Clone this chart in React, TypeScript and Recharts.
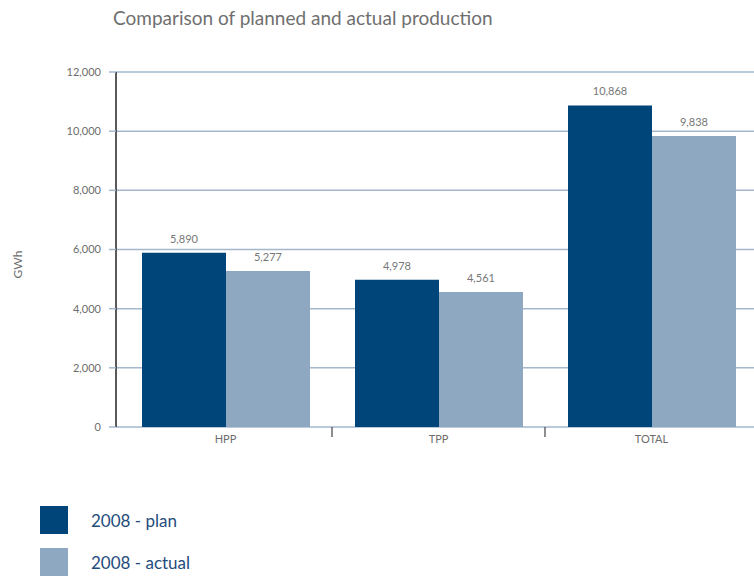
import { BarChart, Bar, XAxis, YAxis, CartesianGrid, LabelList } from 'recharts';

const CATEGORIES = ['HPP', 'TPP', 'TOTAL'];
const PLAN = [5890, 4978, 10868];
const ACTUAL = [5277, 4561, 9838];
const Y_TICKS = [0, 2000, 4000, 6000, 8000, 10000, 12000];

const SERIES = [
  { key: 'plan', name: '2008 - plan', color: '#00457a' },
  { key: 'actual', name: '2008 - actual', color: '#8ea8c2' },
];

const data = CATEGORIES.map((c, i) => ({ name: c, plan: PLAN[i], actual: ACTUAL[i] }));

const GRID = '#a5b8cb';
const FONT = 'Lato, "Open Sans", sans-serif';

const fmt = (v: any) => Number(v).toLocaleString('en-US');

// category label in the middle, separator tick on the band's left edge
const CategoryTick = (props: any) => {
  const { x, y, payload, index } = props;
  const half = payload && payload.offset ? payload.offset : 106.5;
  return (
    <g>
      {index > 0 && (
        <line x1={x - half} x2={x - half} y1={y} y2={y + 10} stroke="#444" strokeWidth={1.2} />
      )}
      <text x={x} y={y + 8} dy="0.71em" textAnchor="middle" fontSize={11} fill="#6d6d6d" fontFamily={FONT}>
        {payload.value}
      </text>
    </g>
  );
};

const AxisTitle = ({ viewBox }: any) => {
  const cx = 17;
  const cy = viewBox.y + viewBox.height / 2 + 15;
  return (
    <text x={cx} y={cy} transform={`rotate(-90, ${cx}, ${cy})`} textAnchor="middle" dominantBaseline="central"
      fontSize={12} fill="#6d6d6d" fontFamily={FONT}>
      GWh
    </text>
  );
};

export default function App() {
  return (
    <div style={{ position: 'absolute', left: 0, top: 0, width: 754, height: 577, overflow: 'hidden', background: '#fff', fontFamily: FONT }}>
      <div style={{ position: 'absolute', left: 113, top: 6, fontSize: 19, color: '#6f6f6f', whiteSpace: 'nowrap' }}>
        Comparison of planned and actual production
      </div>
      <BarChart
        width={758}
        height={577}
        data={data}
        margin={{ top: 72, right: 0, left: 0, bottom: 120 }}
        barCategoryGap={23}
        barGap={0}
      >
        <CartesianGrid vertical={false} stroke={GRID} strokeWidth={1.5} />
        <XAxis
          dataKey="name"
          height={30}
          padding={{ left: 3, right: 0 }}
          axisLine={false}
          tickLine={false}
          tickSize={0}
          tickMargin={0}
          tick={<CategoryTick />}
          interval={0}
        />
        <YAxis
          width={116}
          domain={[0, 12000]}
          ticks={Y_TICKS}
          interval={0}
          tickFormatter={fmt}
          axisLine={{ stroke: '#222', strokeWidth: 1.5 }}
          tickLine={{ stroke: GRID, strokeWidth: 1.5 }}
          tickSize={7}
          tickMargin={8}
          tick={{ fontSize: 11, fill: '#6d6d6d', fontFamily: FONT }}
          label={<AxisTitle />}
        />
        {SERIES.map((s) => (
          <Bar key={s.key} dataKey={s.key} name={s.name} fill={s.color} isAnimationActive={false}>
            <LabelList dataKey={s.key} position="top" offset={10} formatter={fmt}
              style={{ fontSize: 11, fill: '#777', fontFamily: FONT }} />
          </Bar>
        ))}
      </BarChart>
      <div style={{ position: 'absolute', left: 40, top: 506 }}>
        {SERIES.map((s, i) => (
          <div key={s.key} style={{ display: 'flex', alignItems: 'center', height: 28, marginBottom: i === 0 ? 14 : 0 }}>
            <div style={{ width: 28, height: 28, background: s.color }} />
            <span style={{ marginLeft: 23, fontSize: 17, color: '#1f4d7c' }}>{s.name}</span>
          </div>
        ))}
      </div>
    </div>
  );
}
